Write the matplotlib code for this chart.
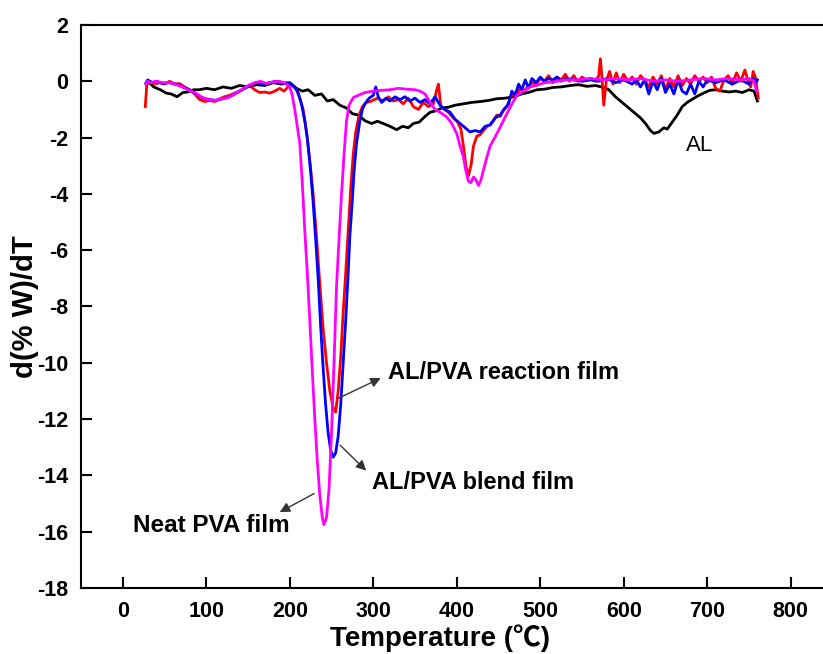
import matplotlib
matplotlib.use("Agg")
import matplotlib.pyplot as plt

plt.rcParams["axes.unicode_minus"] = False

# AL (black)
al_t = [28, 32, 37, 45, 52, 58, 65, 72, 78, 85, 92, 100, 110, 120, 130, 140, 150, 160, 170, 180,
        190, 200, 208, 215, 222, 230, 238, 245, 252, 260, 268, 275, 282, 290, 298, 305, 312, 320,
        328, 335, 342, 348, 355, 362, 368, 375, 382, 390, 398, 408, 418, 428, 438, 448, 458, 468,
        478, 488, 496, 505, 515, 525, 536, 546, 556, 566, 576, 582, 590, 598, 606, 612, 620, 626,
        632, 636, 642, 648, 652, 658, 664, 670, 676, 683, 690, 697, 703, 710, 718, 726, 734, 742,
        750, 756, 760]
al_y = [-0.1, -0.05, -0.2, -0.3, -0.42, -0.45, -0.55, -0.4, -0.38, -0.3, -0.3, -0.25, -0.3, -0.2,
        -0.25, -0.15, -0.2, -0.12, -0.15, -0.05, -0.1, -0.05, -0.25, -0.35, -0.3, -0.5, -0.45,
        -0.7, -0.65, -0.85, -0.95, -1.15, -1.2, -1.4, -1.5, -1.42, -1.5, -1.6, -1.72, -1.6, -1.65,
        -1.5, -1.45, -1.25, -1.1, -1.05, -0.95, -0.92, -0.85, -0.8, -0.75, -0.72, -0.68, -0.62,
        -0.6, -0.55, -0.45, -0.38, -0.3, -0.28, -0.22, -0.2, -0.15, -0.12, -0.18, -0.15, -0.22,
        -0.3, -0.55, -0.75, -0.95, -1.1, -1.3, -1.5, -1.75, -1.85, -1.8, -1.65, -1.7, -1.45, -1.2,
        -0.9, -0.75, -0.62, -0.5, -0.4, -0.32, -0.3, -0.35, -0.38, -0.35, -0.4, -0.3, -0.35, -0.7]

# AL/PVA reaction film (red)
rx_t = [27, 29, 33, 38, 44, 50, 56, 62, 68, 74, 80, 86, 92, 98, 104, 110, 116, 122, 128, 134, 140,
        146, 152, 158, 164, 170, 176, 182, 188, 193, 198, 203, 208, 212, 216, 220, 224, 228, 232,
        236, 240, 244, 248, 252, 255, 258, 261, 264, 267, 270, 273, 276, 279, 283, 287, 292, 298,
        305, 312, 318, 324, 330, 336, 342, 348, 354, 360, 366, 372, 376, 378, 381, 385, 390, 396,
        401, 405, 408, 411, 414, 417, 420, 424, 428, 432, 436, 440, 444, 448, 452, 456, 460, 464,
        468, 472, 476, 480, 485, 490, 495, 500, 505, 510, 515, 520, 525, 530, 535, 540, 545, 550,
        555, 560, 566, 570, 572, 574, 576, 579, 583, 587, 591, 595, 600, 605, 610, 615, 620, 625,
        630, 635, 640, 645, 650, 655, 660, 665, 670, 675, 680, 685, 690, 695, 700, 705, 710, 715,
        720, 725, 730, 735, 740, 745, 749, 752, 755, 758, 761]
rx_y = [-0.9, -0.05, 0.0, -0.1, -0.05, -0.1, 0.0, -0.1, -0.08, -0.2, -0.3, -0.45, -0.65, -0.72,
        -0.68, -0.72, -0.62, -0.55, -0.5, -0.42, -0.35, -0.25, -0.15, -0.3, -0.4, -0.38, -0.42,
        -0.35, -0.25, -0.35, -0.2, -0.15, -0.3, -0.6, -1.0, -1.8, -2.8, -4.0, -5.5, -7.2, -8.8,
        -10.0, -11.0, -11.6, -11.75, -11.0, -9.8, -8.2, -6.8, -5.3, -3.8, -2.6, -1.8, -1.2, -0.9,
        -0.75, -0.7, -0.6, -0.7, -0.55, -0.7, -0.65, -0.8, -0.6, -0.9, -1.0, -0.75, -0.9, -0.8,
        -0.3, -0.1, -0.9, -1.0, -1.1, -1.3, -1.45, -1.7, -2.3, -3.0, -3.35, -3.0, -2.3, -1.95, -1.9,
        -1.75, -1.6, -1.55, -1.4, -1.2, -1.25, -1.0, -0.9, -0.6, -0.4, -0.45, -0.25, -0.35, -0.2,
        -0.05, -0.1, 0.1, 0.0, 0.2, -0.05, 0.15, 0.05, 0.25, 0.0, 0.2, 0.0, 0.15, 0.05, 0.1, 0.0,
        0.2, 0.8, 0.1, -0.85, 0.0, 0.35, -0.1, 0.3, -0.05, 0.25, 0.0, 0.15, -0.1, 0.2, 0.05, -0.2,
        0.15, -0.1, 0.2, -0.3, 0.1, -0.2, 0.2, -0.15, 0.1, -0.1, 0.2, 0.0, 0.15, -0.05, 0.15,
        -0.25, -0.35, 0.05, 0.2, -0.1, 0.3, 0.0, 0.4, 0.0, -0.2, 0.35, 0.1, -0.6]

# AL/PVA blend film (blue)
bl_t = [28, 30, 35, 40, 48, 56, 64, 72, 80, 88, 96, 104, 112, 120, 128, 136, 144, 152, 160, 168,
        176, 184, 190, 196, 202, 206, 210, 214, 218, 221, 225, 228, 231, 234, 237, 240, 243, 246,
        249, 252, 255, 258, 261, 264, 267, 270, 272, 275, 277, 280, 284, 287, 290, 295, 300, 303,
        306, 310, 315, 320, 326, 332, 338, 344, 350, 356, 362, 368, 374, 380, 386, 392, 398, 404,
        410, 416, 422, 428, 434, 440, 446, 452, 458, 462, 466, 470, 474, 478, 482, 486, 490, 495,
        500, 505, 510, 515, 520, 525, 530, 540, 550, 560, 570, 580, 590, 600, 610, 615, 620, 625,
        630, 635, 640, 645, 650, 655, 660, 665, 670, 675, 680, 685, 690, 695, 700, 710, 720, 730,
        740, 750, 755, 758, 760]
bl_y = [-0.05, 0.05, -0.05, 0.0, -0.08, -0.05, -0.1, -0.2, -0.3, -0.45, -0.6, -0.65, -0.68,
        -0.62, -0.55, -0.42, -0.28, -0.15, -0.05, -0.1, -0.05, 0.0, -0.08, -0.05, -0.1, -0.2, -0.4,
        -0.8, -1.4, -2.0, -3.2, -4.3, -5.6, -7.0, -8.7, -10.2, -11.5, -12.5, -13.1, -13.35, -13.2,
        -12.6, -11.5, -10.0, -8.5, -6.8, -5.5, -4.2, -3.2, -2.2, -1.4, -1.0, -0.8, -0.6, -0.5,
        -0.2, -0.55, -0.75, -0.6, -0.7, -0.55, -0.65, -0.55, -0.7, -0.6, -0.75, -0.65, -0.8,
        -0.55, -0.85, -1.0, -1.1, -1.35, -1.5, -1.65, -1.8, -1.75, -1.8, -1.6, -1.55, -1.3, -1.2,
        -0.95, -0.8, -0.35, -0.5, -0.1, -0.3, 0.05, -0.25, 0.1, -0.05, 0.15, 0.0, 0.1, 0.05, 0.15,
        0.0, 0.1, 0.05, 0.0, 0.05, 0.0, 0.1, -0.05, 0.05, -0.1, 0.05, -0.2, 0.05, -0.45, 0.0,
        -0.3, 0.1, -0.4, -0.1, -0.45, 0.05, -0.35, -0.45, -0.1, -0.45, 0.0, -0.2, 0.05, -0.05,
        0.05, -0.1, 0.05, -0.1, 0.1, -0.05, 0.05]

# Neat PVA film (magenta)
pv_t = [28, 30, 34, 40, 48, 56, 62, 70, 78, 86, 94, 102, 110, 118, 126, 134, 142, 150, 158, 165,
        172, 180, 188, 195, 200, 203, 206, 209, 212, 215, 218, 221, 224, 227, 230, 233, 236, 239,
        241, 244, 247, 250, 253, 256, 259, 262, 265, 268, 271, 276, 282, 290, 300, 310, 320, 330,
        340, 350, 356, 362, 368, 374, 380, 388, 394, 400, 404, 408, 411, 414, 417, 420, 423, 426,
        429, 432, 436, 440, 448, 456, 464, 472, 480, 488, 496, 505, 516, 530, 545, 560, 575, 590,
        605, 620, 635, 650, 665, 680, 695, 710, 725, 740, 750, 756, 759]
pv_y = [-0.1, 0.0, -0.05, 0.0, -0.05, -0.05, -0.1, -0.18, -0.3, -0.4, -0.55, -0.65, -0.68, -0.62,
        -0.58, -0.45, -0.3, -0.15, -0.05, 0.0, -0.08, -0.02, 0.0, -0.08, -0.2, -0.5, -1.0, -1.6,
        -2.2, -3.6, -5.3, -6.8, -8.5, -10.3, -12.0, -13.5, -14.7, -15.5, -15.75, -15.5, -14.5,
        -12.5, -10.0, -7.3, -5.6, -4.0, -2.6, -1.4, -0.85, -0.58, -0.5, -0.4, -0.35, -0.32, -0.3,
        -0.25, -0.28, -0.3, -0.35, -0.45, -0.75, -1.0, -1.1, -1.27, -1.5, -1.86, -2.3, -2.7, -3.2,
        -3.55, -3.6, -3.4, -3.5, -3.7, -3.5, -3.15, -2.7, -2.3, -1.86, -1.39, -0.91, -0.5, -0.35,
        -0.2, -0.14, -0.05, -0.02, 0.05, 0.05, 0.1, 0.05, 0.1, 0.05, 0.1, 0.0, 0.05, 0.0, 0.05,
        0.1, 0.05, 0.1, 0.05, 0.1, 0.0, -0.35]

x_ticks = list(range(0, 801, 100))
y_ticks = list(range(-18, 3, 2))

fig = plt.figure(figsize=(8.23, 6.54), dpi=100)
ax = fig.add_axes([0.0984, 0.1009, 0.9132, 0.8609])

lw = 2.0
ax.plot(al_t, al_y, color="black", lw=lw)
ax.plot(rx_t, rx_y, color="#ff0000", lw=lw)
ax.plot(bl_t, bl_y, color="#0000ff", lw=lw)
ax.plot(pv_t, pv_y, color="#ff00ff", lw=lw)

ax.set_xlim(-50, 850)
ax.set_ylim(-18, 2)
ax.set_xticks(x_ticks)
ax.set_yticks(y_ticks)
ax.tick_params(direction="in", length=8, width=1.5, labelsize=15.5, pad=9)
for lab in ax.get_xticklabels() + ax.get_yticklabels():
    lab.set_family("Liberation Sans")
    lab.set_fontweight("bold")
for s in ax.spines.values():
    s.set_linewidth(1.5)

ax.set_xlabel("Temperature (℃)", fontsize=20, fontweight="bold",
              family=["Liberation Sans", "Noto Sans CJK SC"], labelpad=2, x=0.478)
ax.set_ylabel("d(% W)/dT", fontsize=21, fontweight="bold",
              family="Liberation Sans", labelpad=-1)

# annotations
ax.text(675, -2.27, "AL", fontsize=16, family="Liberation Sans", va="center")
ann = dict(fontsize=17, fontweight="bold", family="Liberation Sans", va="center")
arrow = dict(arrowstyle="-|>", color="#333333", lw=1, mutation_scale=15)
ax.annotate("", xy=(312, -10.5), xytext=(255.5, -11.3), arrowprops=arrow)
ax.text(318, -10.34, "AL/PVA reaction film", **ann)
ax.annotate("", xy=(294, -13.9), xytext=(258, -12.86), arrowprops=arrow)
ax.text(298.5, -14.25, "AL/PVA blend film", **ann)
ax.annotate("", xy=(185, -15.35), xytext=(232, -14.6), arrowprops=arrow)
ax.text(12, -15.77, "Neat PVA film", fontsize=17.5, fontweight="bold",
        family="Liberation Sans", va="center")

fig.savefig("out.png", dpi=100)
